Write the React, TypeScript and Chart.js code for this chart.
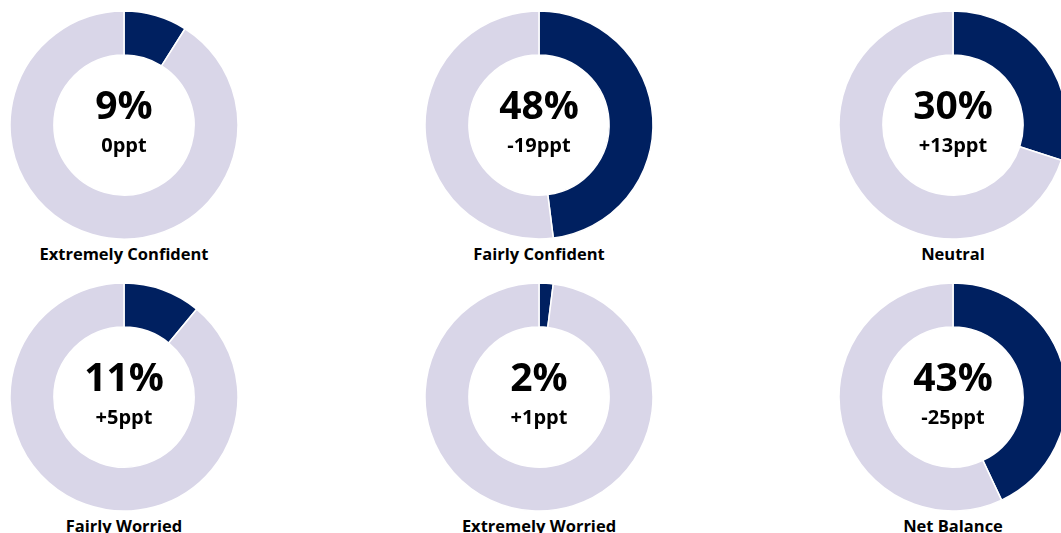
import React, { useEffect, useRef } from "react";
import { Chart, registerables } from "chart.js";

Chart.register(...registerables);

const categories = [
  "Extremely Confident",
  "Fairly Confident",
  "Neutral",
  "Fairly Worried",
  "Extremely Worried",
  "Net Balance",
];
const shares = [9, 48, 30, 11, 2, 43];
const changes = ["0ppt", "-19ppt", "+13ppt", "+5ppt", "+1ppt", "-25ppt"];

const DARK = "#002060";
const LIGHT = "#D9D6E8";
const FONT = "'Open Sans', sans-serif";

const COL_X = [124, 539, 953];
const ROW_Y = [124.5, 397];
const SIZE = 232;

function Donut({ index }: { index: number }) {
  const ref = useRef<HTMLCanvasElement>(null);
  useEffect(() => {
    if (!ref.current) return;
    const value = shares[index];
    const chart = new Chart(ref.current, {
      type: "doughnut",
      data: {
        labels: [categories[index], "Other"],
        datasets: [
          {
            data: [value, 100 - value],
            backgroundColor: [DARK, LIGHT],
            borderColor: "#ffffff",
            borderWidth: 1.5,
            radius: 114,
            hoverOffset: 0,
          } as any,
        ],
      },
      options: {
        responsive: false,
        maintainAspectRatio: false,
        animation: false,
        cutout: "61.5%",
        rotation: 0,
        layout: { padding: 0 },
        plugins: {
          legend: { display: false },
          tooltip: { enabled: false },
          title: { display: false },
        },
        events: [],
      },
    });
    return () => chart.destroy();
  }, [index]);

  const col = index % 3;
  const row = Math.floor(index / 3);
  const cx = COL_X[col];
  const cy = ROW_Y[row];

  return (
    <>
      <canvas
        ref={ref}
        width={SIZE}
        height={SIZE}
        style={{
          position: "absolute",
          left: cx - SIZE / 2,
          top: cy - SIZE / 2,
          width: SIZE,
          height: SIZE,
        }}
      />
      <div
        style={{
          position: "absolute",
          left: cx - 100,
          width: 200,
          top: cy - 46,
          textAlign: "center",
          fontFamily: FONT,
          fontWeight: 700,
          fontSize: 39,
          lineHeight: "50px",
          color: "#000",
        }}
      >
        {shares[index]}%
      </div>
      <div
        style={{
          position: "absolute",
          left: cx - 100,
          width: 200,
          top: cy + 7,
          textAlign: "center",
          fontFamily: FONT,
          fontWeight: 700,
          fontSize: 20,
          lineHeight: "26px",
          color: "#000",
        }}
      >
        {changes[index]}
      </div>
      <div
        style={{
          position: "absolute",
          left: cx - 130,
          width: 260,
          top: cy + 117,
          textAlign: "center",
          fontFamily: FONT,
          fontWeight: 700,
          fontSize: 16.5,
          lineHeight: "24px",
          color: "#000",
        }}
      >
        {categories[index]}
      </div>
    </>
  );
}

export default function App() {
  return (
    <div
      style={{
        position: "fixed",
        left: 0,
        top: 0,
        width: 1061,
        height: 533,
        overflow: "hidden",
        background: "#ffffff",
      }}
    >
      {categories.map((_, i) => (
        <Donut key={i} index={i} />
      ))}
    </div>
  );
}
